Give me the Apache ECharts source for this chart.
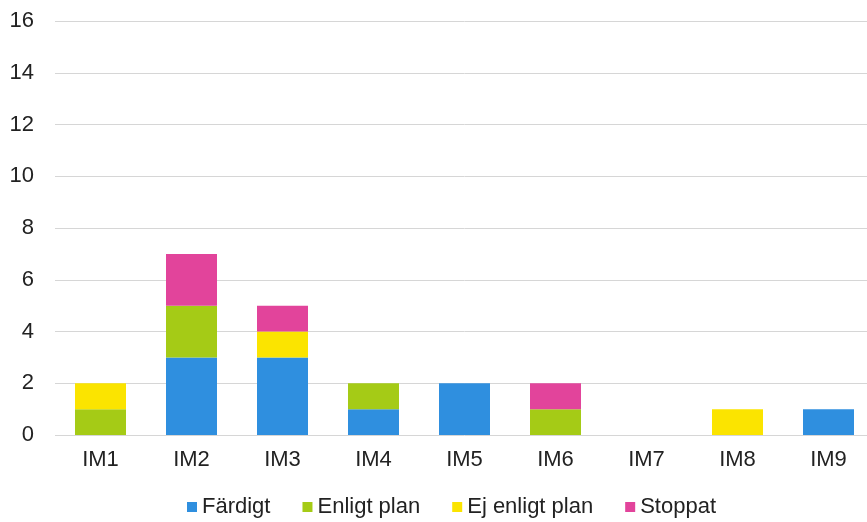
<!DOCTYPE html>
<html>
<head>
<meta charset="utf-8">
<script src="https://cdn.jsdelivr.net/npm/echarts@6/dist/echarts.min.js"></script>
<style>
  html, body { margin: 0; padding: 0; background: #fff; overflow: hidden; }
  /* plot area runs a few px past the right edge of the window, like the source */
  #chart { width: 874px; height: 522px; }
</style>
</head>
<body>
<div id="chart"></div>
<script>
const categories = ['IM1', 'IM2', 'IM3', 'IM4', 'IM5', 'IM6', 'IM7', 'IM8', 'IM9'];
const fardigt = [0, 3, 3, 1, 2, 0, 0, 0, 1];
const enligtPlan = [1, 2, 0, 1, 0, 1, 0, 0, 0];
const ejEnligtPlan = [1, 0, 1, 0, 0, 0, 0, 1, 0];
const stoppat = [0, 2, 1, 0, 0, 1, 0, 0, 0];

const chart = echarts.init(document.getElementById('chart'));

const mkSeries = (name, data, color) => ({
  name,
  type: 'bar',
  stack: 'total',
  data,
  barWidth: 51,
  itemStyle: { color },
});

chart.setOption({
  animation: false,
  textStyle: { fontFamily: 'Liberation Sans, Arial, sans-serif' },
  grid: { left: 55, right: 0, top: 21, bottom: 87 },
  legend: {
    top: 496,
    left: 187,
    padding: 0,
    itemWidth: 10,
    itemHeight: 10,
    itemGap: 32,
    icon: 'rect',
    textStyle: { fontSize: 22, color: '#222' },
    data: ['Färdigt', 'Enligt plan', 'Ej enligt plan', 'Stoppat'],
  },
  xAxis: {
    type: 'category',
    data: categories,
    axisLine: { show: false },
    axisTick: { show: false },
    axisLabel: { fontSize: 22, color: '#222', margin: 14 },
  },
  yAxis: {
    type: 'value',
    min: 0,
    max: 16,
    interval: 2,
    axisLabel: { fontSize: 22, color: '#222', margin: 21 },
    splitLine: { lineStyle: { color: '#d6d6d6', width: 1 } },
  },
  series: [
    mkSeries('Färdigt', fardigt, '#2f8fdf'),
    mkSeries('Enligt plan', enligtPlan, '#a5cb16'),
    mkSeries('Ej enligt plan', ejEnligtPlan, '#fbe400'),
    mkSeries('Stoppat', stoppat, '#e2449b'),
  ],
});
</script>
</body>
</html>
